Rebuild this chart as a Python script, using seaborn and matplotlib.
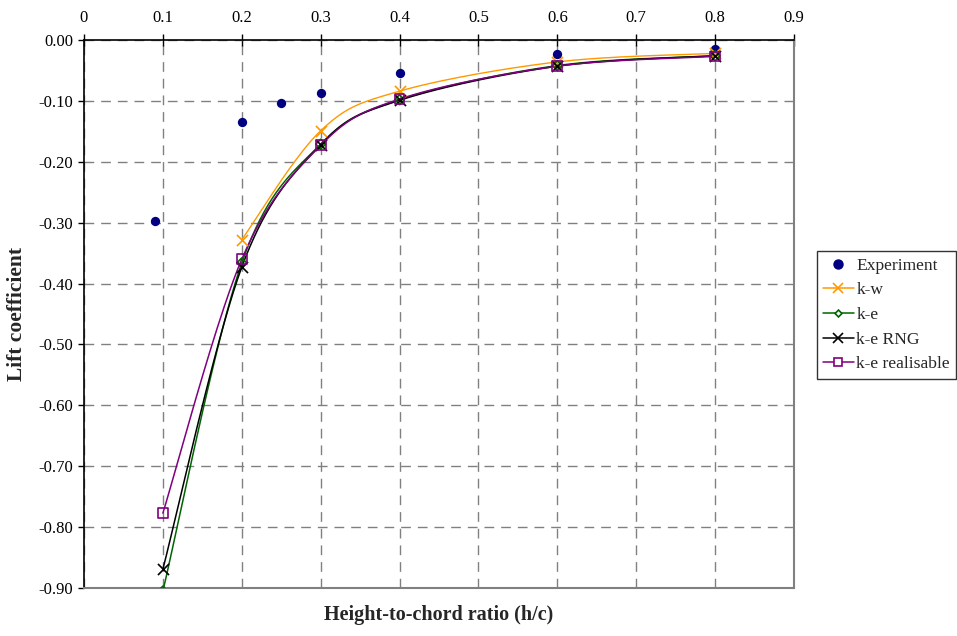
import numpy as np
import pandas as pd
import matplotlib
matplotlib.use("Agg")
import matplotlib.pyplot as plt
from matplotlib.lines import Line2D
from matplotlib.ticker import FuncFormatter, MultipleLocator
import seaborn as sns

# ---- data ----
exp_x = [0.09, 0.2, 0.25, 0.3, 0.4, 0.6, 0.8]
exp_y = [-0.297, -0.135, -0.104, -0.087, -0.054, -0.023, -0.015]

kw_x = [0.2, 0.3, 0.4, 0.6, 0.8]
kw_y = [-0.328, -0.149, -0.084, -0.036, -0.022]

model_x = [0.1, 0.2, 0.3, 0.4, 0.6, 0.8]
ke_y = [-0.905, -0.366, -0.171, -0.098, -0.042, -0.026]
rng_y = [-0.869, -0.373, -0.172, -0.099, -0.043, -0.026]
real_y = [-0.777, -0.360, -0.173, -0.097, -0.043, -0.027]

x_ticks = [0, 0.1, 0.2, 0.3, 0.4, 0.5, 0.6, 0.7, 0.8, 0.9]
x_label = "Height-to-chord ratio (h/c)"
y_label = "Lift coefficient"

sns.set_theme(style="white")
plt.rcParams['font.family'] = ['Liberation Serif', 'DejaVu Serif']

W, H = 957, 636
fig = plt.figure(figsize=(W / 100, H / 100), dpi=100)
ax = fig.add_axes([84 / W, 1 - 588 / H, (794 - 84) / W, (588 - 40) / H])

XMAX, YMIN = 0.9, -0.9
PXW, PXH = 710.0, 548.0


def smooth(xs, ys, n=40):
    # Catmull-Rom (Excel-like smoothed line) computed in screen space
    px = np.asarray(xs) / XMAX * PXW
    py = np.asarray(ys) / (-YMIN) * PXH
    P = np.column_stack([px, py])
    P = np.vstack([P[0], P, P[-1]])
    out = []
    for i in range(1, len(P) - 2):
        p0, p1, p2, p3 = P[i - 1], P[i], P[i + 1], P[i + 2]
        t = np.linspace(0, 1, n)[:, None]
        c1 = p1 + (p2 - p0) / 6.0
        c2 = p2 - (p3 - p1) / 6.0
        seg = ((1 - t) ** 3) * p1 + 3 * ((1 - t) ** 2) * t * c1 + 3 * (1 - t) * t ** 2 * c2 + t ** 3 * p2
        out.append(seg if i == 1 else seg[1:])
    S = np.vstack(out)
    return pd.DataFrame({"x": S[:, 0] / PXW * XMAX, "y": S[:, 1] / PXH * (-YMIN)})


series = [
    ("k-w", kw_x, kw_y, "#FF9900", "x", 8, 1.0),
    ("k-e", model_x, ke_y, "#006400", "D", 5, 1.1),
    ("k-e RNG", model_x, rng_y, "#000000", "x", 8, 1.1),
    ("k-e realisable", model_x, real_y, "#800080", "s", 7, 1.1),
]

# grid
ax.set_xlim(0, XMAX)
ax.set_ylim(YMIN, 0)
ax.xaxis.set_major_locator(MultipleLocator(0.1))
ax.yaxis.set_major_locator(MultipleLocator(0.1))
ax.grid(True, color="#808080", linestyle=(0, (7, 5)), linewidth=1.0)
ax.set_axisbelow(True)

sns.scatterplot(x=exp_x, y=exp_y, ax=ax, color="#000080", marker="o", s=45,
                edgecolor="#000080", linewidth=0, zorder=3, legend=False)

for name, xs, ys, col, mk, ms, lw in series:
    d = smooth(xs, ys)
    sns.lineplot(data=d, x="x", y="y", ax=ax, color=col, linewidth=lw, sort=False,
                 estimator=None, zorder=4, legend=False)
    if mk == "x":
        sns.scatterplot(x=xs, y=ys, ax=ax, marker="x", color=col, s=ms ** 2,
                        linewidth=1.2, zorder=5, legend=False)
    else:
        sns.scatterplot(x=xs, y=ys, ax=ax, marker=mk, s=ms ** 2, facecolor="none",
                        edgecolor=col, linewidth=1.2, zorder=5, legend=False)

ax.xaxis.tick_top()
ax.xaxis.set_label_position("bottom")
ax.set_xticks(x_ticks)
ax.xaxis.set_major_formatter(FuncFormatter(lambda v, p: "0" if abs(v) < 1e-9 else f"{v:.1f}"))
ax.yaxis.set_major_formatter(FuncFormatter(lambda v, p: f"{v:.2f}" if abs(v) > 1e-9 else "0.00"))
ax.tick_params(axis="x", top=True, bottom=False, direction="inout", length=8, width=1,
               labelsize=12, colors="black", pad=6)
ax.tick_params(axis="y", left=True, direction="out", length=4, width=1, labelsize=12,
               colors="black", pad=4)

for s in ["left", "top"]:
    ax.spines[s].set_color("black")
    ax.spines[s].set_linewidth(1.2)
for s in ["right", "bottom"]:
    ax.spines[s].set_color("#808080")
    ax.spines[s].set_linewidth(1.5)

ax.set_xlabel(x_label, fontsize=14.5, fontweight="bold", labelpad=12)
ax.set_ylabel(y_label, fontsize=15.5, fontweight="bold", labelpad=8)

handles = [Line2D([], [], color="#000080", marker="o", linestyle="none", markersize=6.5)]
for name, xs, ys, col, mk, ms, lw in series:
    if mk == "x":
        handles.append(Line2D([], [], color=col, marker="x", markersize=7, linewidth=1.1,
                              markeredgewidth=1.2))
    else:
        handles.append(Line2D([], [], color=col, marker=mk, markersize=ms - 1.5, linewidth=1.1,
                              markerfacecolor="white", markeredgecolor=col, markeredgewidth=1.2))
labels = ["Experiment"] + [s[0] for s in series]
leg = fig.legend(handles, labels, loc="center left", bbox_to_anchor=(817 / W, 1 - 315 / H),
                 frameon=True, fancybox=False, fontsize=12.6, handlelength=1.75,
                 handletextpad=0.15, borderpad=0.35, labelspacing=0.48, borderaxespad=0)
leg.get_frame().set_edgecolor("black")
leg.get_frame().set_linewidth(1.0)

fig.savefig("out.png", dpi=100)
